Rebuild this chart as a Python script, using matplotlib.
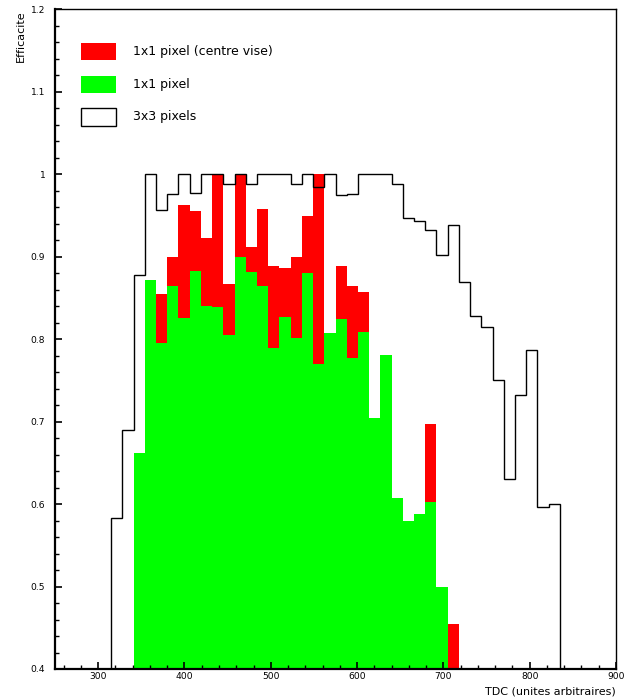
import numpy as np
import matplotlib
matplotlib.use("Agg")
import matplotlib.pyplot as plt
from matplotlib.patches import Rectangle
from matplotlib.ticker import MultipleLocator, FuncFormatter

# Histogram binning (TDC, 50 bins from 250 to 900)
hist_lo, hist_hi, n_bins = 250, 900, 50

# 3x3 pixels efficiency, bins starting at TDC = 315
eff_3x3_start = 315
eff_3x3 = [0.583, 0.690, 0.878, 1.000, 0.957, 0.976, 1.000, 0.977, 1.000, 1.000,
           0.988, 1.000, 0.988, 1.000, 1.000, 1.000, 0.988, 1.000, 0.985, 1.000,
           0.975, 0.976, 1.000, 1.000, 1.000, 0.988, 0.947, 0.944, 0.932, 0.902,
           0.938, 0.870, 0.828, 0.815, 0.750, 0.631, 0.732, 0.787, 0.597, 0.600]

# 1x1 pixel efficiency, bins starting at TDC = 341
eff_1x1_start = 341
eff_1x1 = [0.662, 0.872, 0.795, 0.864, 0.826, 0.883, 0.840, 0.839, 0.805, 0.900,
           0.881, 0.864, 0.789, 0.827, 0.801, 0.880, 0.770, 0.807, 0.825, 0.777,
           0.809, 0.704, 0.781, 0.607, 0.579, 0.588, 0.602, 0.500]

# 1x1 pixel (centre vise) efficiency, bins starting at TDC = 341
eff_cv_start = 341
eff_cv = [0.662, 0.872, 0.855, 0.900, 0.963, 0.956, 0.923, 1.000, 0.867, 1.000,
          0.912, 0.958, 0.889, 0.887, 0.900, 0.950, 1.000, 0.807, 0.889, 0.865,
          0.857, 0.704, 0.781, 0.607, 0.579, 0.588, 0.697, 0.500, 0.455]

legend_labels = ["1x1 pixel (centre vise)", "1x1 pixel", "3x3 pixels"]
x_label = "TDC (unites arbitraires)"
y_label = "Efficacite"

edges = np.linspace(hist_lo, hist_hi, n_bins + 1)
width = edges[1] - edges[0]


def fill_bins(start, vals):
    h = np.zeros(n_bins)
    i0 = int(round((start - hist_lo) / width))
    h[i0:i0 + len(vals)] = vals
    return h


h3 = fill_bins(eff_3x3_start, eff_3x3)
h1 = fill_bins(eff_1x1_start, eff_1x1)
hc = fill_bins(eff_cv_start, eff_cv)

plt.rcParams['font.family'] = ['DejaVu Sans']
fig = plt.figure(figsize=(6.3, 6.98), dpi=100)
ax = fig.add_axes([55 / 630, 1 - 669 / 698, 561 / 630, 659.5 / 698])

ax.stairs(hc, edges, fill=True, color='#ff0000', baseline=0, lw=0)
ax.stairs(h1, edges, fill=True, color='#00ff00', baseline=0, lw=0)
ax.stairs(h3, edges, fill=False, color='black', baseline=0, lw=1.0)

ax.set_xlim(hist_lo, hist_hi)
ax.set_ylim(0.4, 1.2)

ax.xaxis.set_major_locator(MultipleLocator(100))
ax.xaxis.set_minor_locator(MultipleLocator(20))
ax.yaxis.set_major_locator(MultipleLocator(0.1))
ax.yaxis.set_minor_locator(MultipleLocator(0.02))
ax.yaxis.set_major_formatter(FuncFormatter(lambda v, p: f"{v:.10g}" if abs(v - round(v, 1)) > 1e-9 else f"{round(v, 1):g}"))

ax.tick_params(which='both', direction='in', top=False, right=False, colors='black')
ax.tick_params(axis='x', which='major', length=5, width=1.2, labelsize=6.6, pad=2.5)
ax.tick_params(axis='x', which='minor', length=2.8, width=1.0)
ax.tick_params(axis='y', which='major', length=5, width=1.2, labelsize=6.6, pad=7)
ax.tick_params(axis='y', which='minor', length=2.8, width=1.0)

for side in ['left', 'bottom']:
    ax.spines[side].set_linewidth(1.6)
for side in ['top', 'right']:
    ax.spines[side].set_linewidth(1.0)

fig.text(616 / 630, 1 - 692 / 698, x_label, ha='right', va='center', fontsize=8)
fig.text(21 / 630, 1 - 10 / 698, y_label, ha='center', va='top', rotation=90, fontsize=8)

# Legend
box_x0, box_x1 = 26 / 561, 61 / 561
rows = [(0.9234, 0.9497, '#ff0000', 'none'),
        (0.8738, 0.8992, '#00ff00', 'none'),
        (0.8234, 0.8506, 'white', 'black')]
for (y0, y1, fc, ec), lab in zip(rows, legend_labels):
    ax.add_patch(Rectangle((box_x0, y0), box_x1 - box_x0, y1 - y0, transform=ax.transAxes,
                           facecolor=fc, edgecolor=ec, lw=1.0 if ec != 'none' else 0, zorder=5))
    ax.text(78 / 561, (y0 + y1) / 2, lab, transform=ax.transAxes, ha='left', va='center',
            fontsize=9, zorder=5)

fig.savefig("out.png", dpi=100)
